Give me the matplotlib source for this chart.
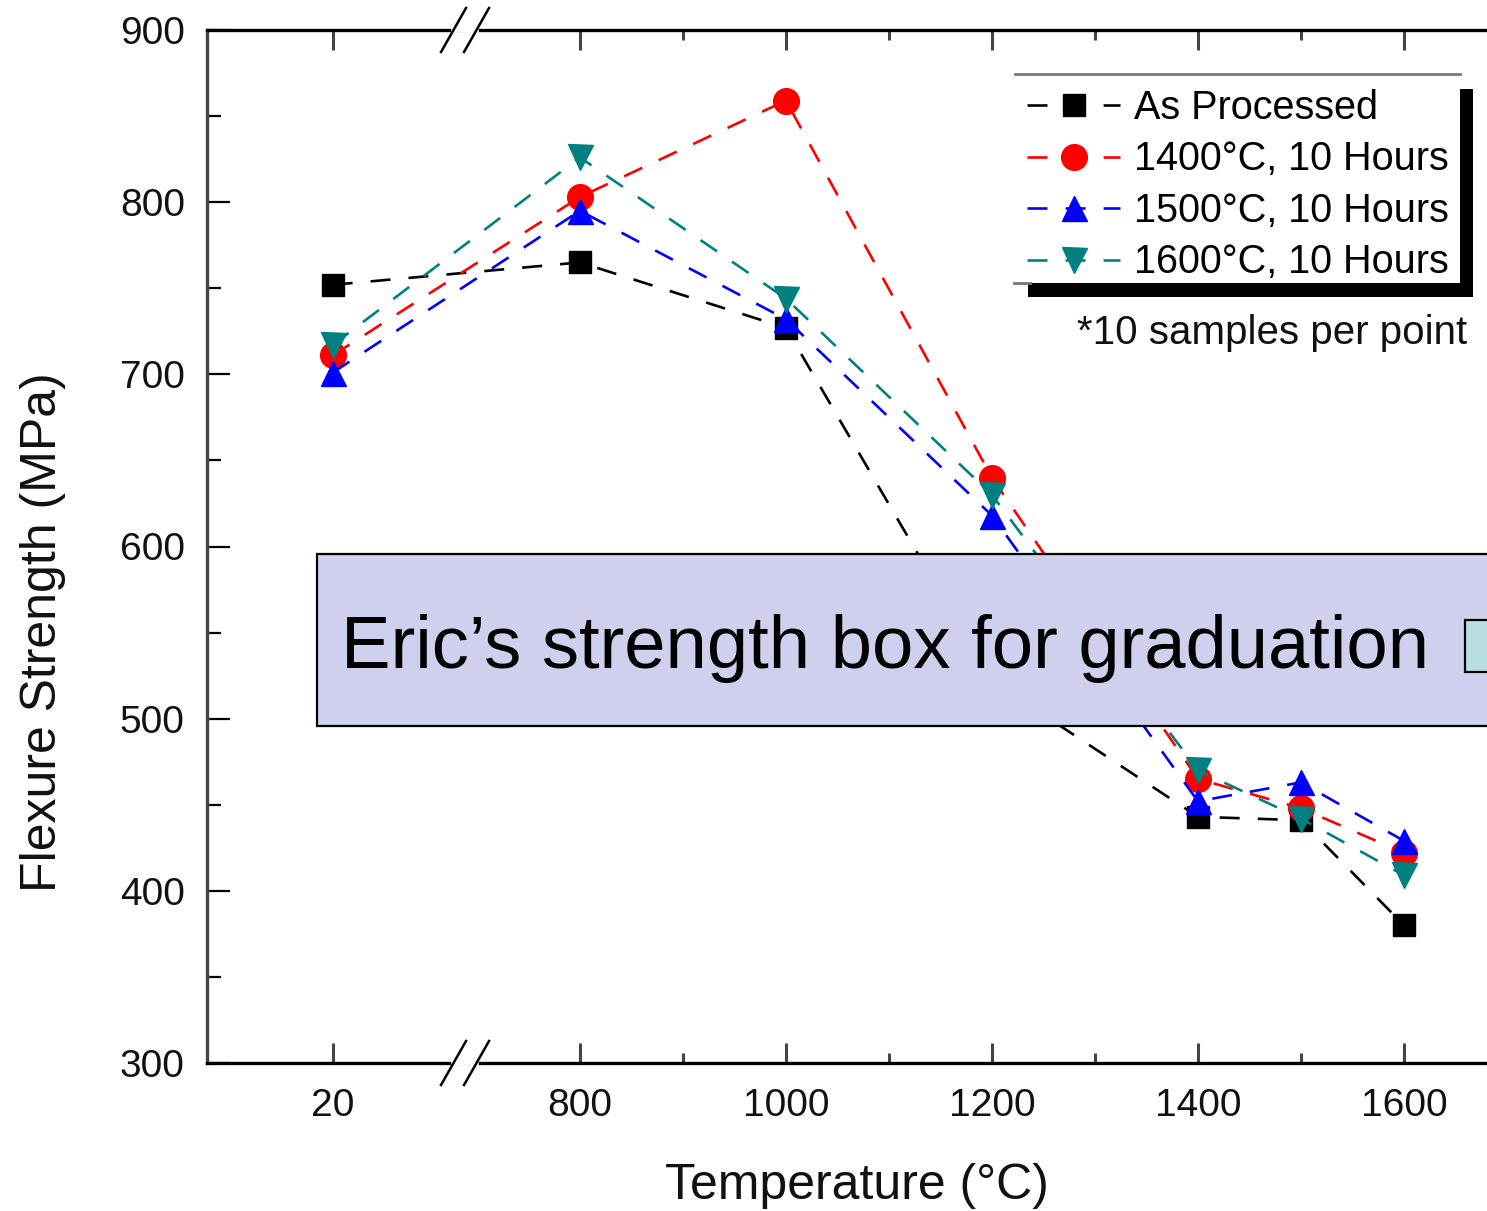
import numpy as np
import matplotlib
matplotlib.use("Agg")
import matplotlib.pyplot as plt
from matplotlib.lines import Line2D
from matplotlib.patches import Rectangle
from matplotlib.ticker import FixedLocator, NullFormatter

plt.rcParams['font.family'] = ['Liberation Sans', 'DejaVu Sans']
plt.rcParams['lines.scale_dashes'] = False

# ---- data -------------------------------------------------------------
temps = [20, 800, 1000, 1200, 1400, 1500, 1600]
as_processed = [752, 765, 727, 522, 443, 441, 380]
heat_1400 = [711, 803, 859, 640, 465, 448, 422]
heat_1500 = [701, 795, 732, 618, 452, 463, 429]
heat_1600 = [717, 826, 744, 630, 470, 442, 409]
series_labels = ["As Processed", "1400°C, 10 Hours",
                 "1500°C, 10 Hours", "1600°C, 10 Hours"]
series_colors = ["black", "#ff0000", "#0000ff", "#008080"]
series_markers = ["s", "o", "^", "v"]
x_major = [20, 800, 1000, 1200, 1400, 1600]
x_minor = [900, 1100, 1300, 1500, 1700]
y_major = [300, 400, 500, 600, 700, 800, 900]
y_minor = [350, 450, 550, 650, 750, 850]
x_break = 436          # temperature where the axis is broken
note_text = "*10 samples per point"
box_text = "Eric\u2019s strength box for graduation"

W, H = 1487, 1211
fig = plt.figure(figsize=(W / 100, H / 100), dpi=100)


def fx(px):
    return px / W


def fy(py):
    return 1 - py / H


ax = fig.add_axes([fx(207), fy(1063), 1300 / W, 1033 / H])


# broken temperature axis: the room-temperature point sits close to 800
def fwd(x):
    x = np.asarray(x, float)
    return np.where(x <= 20, x + 540,
                    np.where(x < 800, 560 + (x - 20) * 240 / 780, x))


def inv(s):
    s = np.asarray(s, float)
    return np.where(s <= 560, s - 540,
                    np.where(s < 800, 20 + (s - 560) * 780 / 240, s))


ax.set_xscale('function', functions=(fwd, inv))
ax.set_xlim(-102, 1700)
ax.set_ylim(300, 900)

series = [as_processed, heat_1400, heat_1500, heat_1600]
ms_list = [16, 18.5, 18, 18]
handles = []
for vals, lab, col, mk, ms in zip(series, series_labels, series_colors,
                                  series_markers, ms_list):
    h, = ax.plot(temps, vals, color=col, lw=1.9, ls=(0, (14.4, 13)),
                 marker=mk, ms=ms, mec=col, mfc=col, label=lab, zorder=3,
                 clip_on=False)
    handles.append(h)

# ticks
ax.xaxis.set_major_locator(FixedLocator(x_major))
ax.xaxis.set_minor_locator(FixedLocator(x_minor))
ax.set_xticklabels([str(v) for v in x_major])
ax.xaxis.set_minor_formatter(NullFormatter())
ax.tick_params(axis='x', which='both', direction='in', top=True,
               bottom=True, width=2.2, color='#444444', labelsize=28,
               pad=18, labelcolor='#111111')
ax.tick_params(axis='x', which='major', length=14.5)
ax.tick_params(axis='x', which='minor', length=7.5)

ax.yaxis.set_major_locator(FixedLocator(y_major))
ax.yaxis.set_minor_locator(FixedLocator(y_minor))
ax.yaxis.set_minor_formatter(NullFormatter())
ax.tick_params(axis='y', which='both', direction='in', width=1.6,
               color='black', right=False)
ax.tick_params(axis='y', which='major', length=16.5, labelsize=28, pad=16,
               labelcolor='#111111')
ax.tick_params(axis='y', which='minor', length=10)

for side in ['top', 'bottom']:
    ax.spines[side].set_linewidth(2.4)
    ax.spines[side].set_color('black')
ax.spines['left'].set_linewidth(2.4)
ax.spines['left'].set_color('#444444')
ax.spines['right'].set_linewidth(2.4)

# axis break marks on top and bottom spines
fig.canvas.draw()
bx = ax.transData.transform((x_break, 300))[0]
for py in (30, 1063):
    gap = Line2D([fx(bx - 11), fx(bx + 11)], [fy(py), fy(py)],
                 transform=fig.transFigure, color='white', lw=4,
                 zorder=6, clip_on=False)
    ax.add_line(gap)
    for dx in (-11, 12):
        sl = Line2D([fx(bx + dx - 12.5), fx(bx + dx + 12.5)],
                    [fy(py + 22), fy(py - 22)],
                    transform=fig.transFigure, color='black', lw=1.8,
                    zorder=6, clip_on=False)
        ax.add_line(sl)

# axis titles
fig.text(fx(857), fy(1186), "Temperature (°C)", fontsize=36,
         ha='center', va='center', color='#111111')
fig.text(fx(43), fy(632), "Flexure Strength (MPa)", fontsize=36,
         ha='center', va='center', rotation=90, color='#111111')

# legend with drop shadow
ax.add_patch(Rectangle((fx(1028), fy(297)), fx(1473) - fx(1028),
                       fy(89) - fy(297), transform=fig.transFigure,
                       facecolor='black', edgecolor='none', zorder=4,
                       clip_on=False))
ax.add_patch(Rectangle((fx(1015), fy(283)), fx(1460) - fx(1015),
                       fy(74) - fy(283), transform=fig.transFigure,
                       facecolor='white', edgecolor='none', zorder=4,
                       clip_on=False))
ax.add_line(Line2D([fx(1015), fx(1460)], [fy(74), fy(74)],
                   transform=fig.transFigure, color='#777777', lw=2,
                   zorder=4, clip_on=False))
ax.add_line(Line2D([fx(1014), fx(1030)], [fy(283), fy(283)],
                   transform=fig.transFigure, color='#777777', lw=2,
                   zorder=4, clip_on=False))
leg = ax.legend(handles=handles, loc='upper left',
                bbox_to_anchor=(fx(1027), fy(89)),
                bbox_transform=fig.transFigure, frameon=False,
                fontsize=28.5, handlelength=2.35, handletextpad=0.35,
                borderpad=0, borderaxespad=0, labelspacing=0.34,
                numpoints=1)
leg.set_zorder(7)

fig.text(fx(1467), fy(333), note_text, fontsize=29, ha='right',
         va='center', color='#111111')

# annotation box over the plot
ax.add_patch(Rectangle((fx(317), fy(726)), fx(1520) - fx(317),
                       fy(554) - fy(726), transform=fig.transFigure,
                       facecolor='#cfcfee', edgecolor='black', lw=1.6,
                       zorder=8, clip_on=False))
ax.add_patch(Rectangle((fx(1465), fy(672)), fx(1520) - fx(1465),
                       fy(620) - fy(672), transform=fig.transFigure,
                       facecolor='#b9e0e0', edgecolor='black', lw=1.6,
                       zorder=9, clip_on=False))
ax.text(fx(341), fy(668), box_text, transform=fig.transFigure,
        fontsize=53.5, ha='left', va='baseline', color='black', zorder=9,
        clip_on=False)

fig.savefig("out.png", dpi=100)
